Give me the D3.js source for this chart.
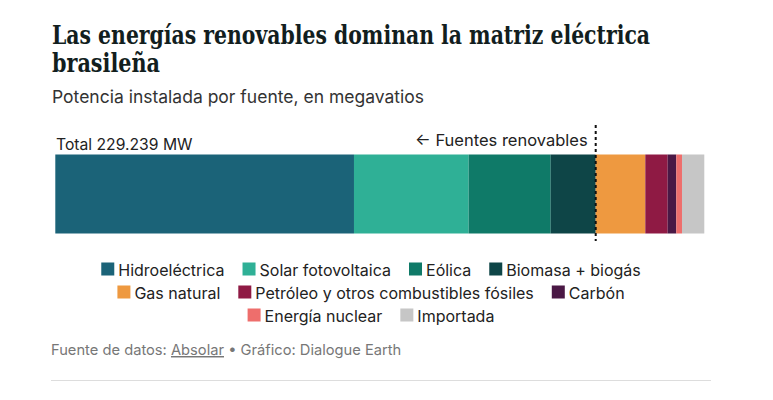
<!DOCTYPE html>
<html>
<head>
<meta charset="utf-8">
<script src="https://cdn.jsdelivr.net/npm/d3@7"></script>
<style>
  body { margin: 0; background: #fff; }
  svg text { font-family: Inter, "Noto Sans", sans-serif; }
</style>
</head>
<body>
<div id="chart"></div>
<script>
(function() {
// Installed capacity by source, MW
var sources = ['Hidroeléctrica', 'Solar fotovoltaica', 'Eólica', 'Biomasa + biogás',
    'Gas natural', 'Petróleo y otros combustibles fósiles', 'Carbón',
    'Energía nuclear', 'Importada'];
var capacityMW = [105500, 40510, 28970, 15900, 17520, 7910, 3040, 2010, 7880];
var colors = ['#1b6378', '#2fb096', '#0f7a68', '#0e4547', '#ee9940',
    '#8f1a44', '#4a1845', '#ee6e6c', '#c6c6c6'];
var renewableCount = 4;
var totalLabel = 'Total 229.239 MW';

var width = 773, height = 400;
var svg = d3.select('#chart').append('svg')
    .attr('width', width)
    .attr('height', height);

// Title block (squeezed to the reference width)
var titleFont = '"DejaVu Serif", serif';
svg.append('text')
    .attr('x', 52).attr('y', 44)
    .attr('textLength', 598)
    .attr('lengthAdjust', 'spacingAndGlyphs')
    .style('font-family', titleFont)
    .style('font-weight', 'bold')
    .style('font-size', '26px')
    .attr('fill', '#121e1e')
    .text('Las energías renovables dominan la matriz eléctrica');
svg.append('text')
    .attr('x', 52).attr('y', 72)
    .attr('textLength', 108)
    .attr('lengthAdjust', 'spacingAndGlyphs')
    .style('font-family', titleFont)
    .style('font-weight', 'bold')
    .style('font-size', '26px')
    .attr('fill', '#121e1e')
    .text('brasileña');
svg.append('text')
    .attr('x', 52).attr('y', 103)
    .style('font-size', '17.5px')
    .attr('fill', '#333')
    .text('Potencia instalada por fuente, en megavatios');

// Stacked bar
var total = d3.sum(capacityMW);
var x = d3.scaleLinear().domain([0, total]).range([55.3, 704.3]);
var stacked = [], acc = 0;
for (var i = 0; i < sources.length; i++) {
  stacked.push({name: sources[i], x0: acc, x1: acc + capacityMW[i], color: colors[i]});
  acc += capacityMW[i];
}

var barTop = 154.5, barHeight = 79;
svg.selectAll('rect.seg').data(stacked)
  .enter().append('rect')
    .attr('class', 'seg')
    .attr('x', function(d) { return x(d.x0); })
    .attr('width', function(d) { return x(d.x1) - x(d.x0); })
    .attr('y', barTop)
    .attr('height', barHeight)
    .attr('fill', function(d) { return d.color; });

svg.append('text')
    .attr('x', 56).attr('y', 150)
    .style('font-size', '15.7px')
    .attr('fill', '#222')
    .text(totalLabel);

// Renewable divider
var divX = x(stacked[renewableCount - 1].x1);
svg.append('line')
    .attr('x1', divX).attr('x2', divX)
    .attr('y1', 125).attr('y2', 241)
    .attr('stroke', '#111')
    .attr('stroke-width', 2)
    .attr('stroke-dasharray', '3,3');
svg.append('text')
    .attr('x', divX - 8).attr('y', 146)
    .attr('text-anchor', 'end')
    .style('font-size', '16.5px')
    .attr('fill', '#222')
    .text('← Fuentes renovables');

// Legend, wrapped in centred rows
var legend = svg.append('g');
var sq = 13, gapText = 4, gapItem = 18, maxRow = 570, cx = 371;
var rowYs = [270, 293, 316];
var items = stacked.map(function(d) {
  var g = legend.append('g');
  g.append('rect').attr('width', sq).attr('height', sq)
      .attr('y', -sq / 2 - 1).attr('fill', d.color);
  var t = g.append('text').attr('x', sq + gapText).attr('dy', '0.35em')
      .style('font-size', '16px').attr('fill', '#222').text(d.name);
  return {g: g, w: sq + gapText + t.node().getComputedTextLength()};
});
var rows = [[]], rw = 0;
items.forEach(function(it) {
  var cur = rows[rows.length - 1];
  var add = (cur.length ? gapItem : 0) + it.w;
  if (cur.length && rw + add > maxRow) {
    rows.push([it]); rw = it.w;
  } else {
    cur.push(it); rw += add;
  }
});
rows.forEach(function(row, r) {
  var w = d3.sum(row, function(it) { return it.w; }) + gapItem * (row.length - 1);
  var px = cx - w / 2;
  row.forEach(function(it) {
    it.g.attr('transform', 'translate(' + px + ',' + rowYs[r] + ')');
    px += it.w + gapItem;
  });
});

// Footer
var foot = svg.append('text')
    .attr('x', 51).attr('y', 355)
    .style('font-size', '14.7px')
    .attr('fill', '#777');
foot.append('tspan').text('Fuente de datos: ');
foot.append('tspan').attr('text-decoration', 'underline').text('Absolar');
foot.append('tspan').text(' • Gráfico: Dialogue Earth');

svg.append('line')
    .attr('x1', 51).attr('x2', 711)
    .attr('y1', 380.5).attr('y2', 380.5)
    .attr('stroke', '#ddd');
})();
</script>
</body>
</html>
